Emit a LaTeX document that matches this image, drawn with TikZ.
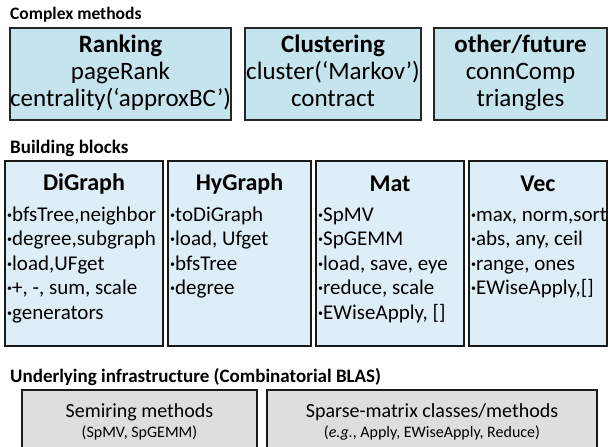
\documentclass[tikz,border=0pt]{standalone}
\usepackage{fontspec}
\setmainfont{Carlito}
\usepackage{tikz}
\usetikzlibrary{positioning}
\definecolor{cplxfill}{RGB}{198,228,238}
\definecolor{blkfill}{RGB}{222,238,246}
\definecolor{infrafill}{RGB}{222,222,222}
\newcommand\itm{\strut\raisebox{.3ex}{\fontsize{10}{10}\selectfont•}}
\tikzstyle{sect}=[
	anchor=west,
	inner sep=0,
	font=\fontsize{19}{22}\selectfont\bfseries]
\tikzstyle{cplx}=[
	draw=black!85,
	line width=1.2,
	rectangle,
	fill=cplxfill,
	align=center,
	inner sep=0,
	outer sep=0,
	minimum height=92,
	font=\fontsize{25}{27}\selectfont]
\tikzstyle{blk}=[
	draw=black!90,
	line width=1.4,
	rectangle,
	fill=blkfill,
	inner sep=0,
	outer sep=0,
	minimum height=185]
\tikzstyle{hdr}=[
	inner sep=0,
	font=\fontsize{24}{28}\selectfont\bfseries]
\tikzstyle{lst}=[
	anchor=north west,
	align=left,
	inner sep=0,
	font=\fontsize{21}{24.5}\selectfont]
\tikzstyle{infra}=[
	draw=black!90,
	line width=1.4,
	rectangle,
	fill=infrafill,
	align=center,
	inner sep=0,
	outer sep=0,
	minimum height=64,
	font=\fontsize{20}{22}\selectfont]
\newcommand\sub[1]{{\fontsize{16}{18}\selectfont #1}}

\begin{document}
\begin{tikzpicture}[x=1pt,y=-1pt]
	\useasboundingbox (0,0) rectangle (608,447);
	% complex methods
	\node[sect,font=\fontsize{17.5}{20}\selectfont\bfseries]	(cplxtitle)	at (10,15)	{Complex methods};
	\node[cplx,minimum width=221,anchor=north west]	(rank)	at (10,28)
		{\strut\bfseries Ranking\\pageRank\\centrality(‘approxBC’)\strut};
	\node[cplx,minimum width=176]	(clust)	[right=14pt of rank]
		{\strut\bfseries Clustering\\cluster(‘Markov’)\\contract\strut};
	\node[cplx,minimum width=173]	(other)	[right=13pt of clust]
		{\strut\bfseries other/future\\connComp\\triangles\strut};
	% building blocks
	\node[sect]	(blktitle)	at (10,148)	{Building blocks};
	\node[blk,minimum width=158,anchor=north west]	(digraph)	at (5,161)	{};
	\node[blk,minimum width=143]	(hygraph)	[right=5pt of digraph]	{};
	\node[blk,minimum width=148]	(mat)	[right=5pt of hygraph]	{};
	\node[blk,minimum width=138]	(vec)	[right=5pt of mat]	{};
	\node[hdr]	(digraphhdr)	at ([yshift=-23pt]digraph.north)	{DiGraph};
	\node[hdr]	(hygraphhdr)	at ([yshift=-23pt]hygraph.north)	{HyGraph};
	\node[hdr]	(mathdr)	at ([yshift=-23pt]mat.north)	{Mat};
	\node[hdr]	(vechdr)	at ([yshift=-23pt]vec.north)	{Vec};
	\node[lst]	(digraphlst)	at ([xshift=2pt,yshift=-43pt]digraph.north west)
		{\itm bfsTree,neighbor\\\itm degree,subgraph\\\itm load,UFget\\\itm +, -, sum, scale\\\itm generators};
	\node[lst]	(hygraphlst)	at ([xshift=2pt,yshift=-43pt]hygraph.north west)
		{\itm toDiGraph\\\itm load, Ufget\\\itm bfsTree\\\itm degree};
	\node[lst]	(matlst)	at ([xshift=2pt,yshift=-43pt]mat.north west)
		{\itm SpMV\\\itm SpGEMM\\\itm load, save, eye\\\itm reduce, scale\\\itm EWiseApply, []};
	\node[lst]	(veclst)	at ([xshift=2pt,yshift=-43pt]vec.north west)
		{\itm max, norm,sort\\\itm abs, any, ceil\\\itm range, ones\\\itm EWiseApply,[]};
	% combinatorial blas
	\node[sect]	(infratitle)	at (10,377)	{Underlying infrastructure (Combinatorial BLAS)};
	\node[infra,minimum width=235,anchor=north west]	(semiring)	at (22,390)
		{Semiring methods\\[-2pt]\sub{(SpMV, SpGEMM)}};
	\node[infra,minimum width=330]	(sparse)	[right=10pt of semiring]
		{Sparse-matrix classes/methods\\[-2pt]\sub{(\textit{e.g.}, Apply, EWiseApply, Reduce)}};
\end{tikzpicture}
\end{document}
